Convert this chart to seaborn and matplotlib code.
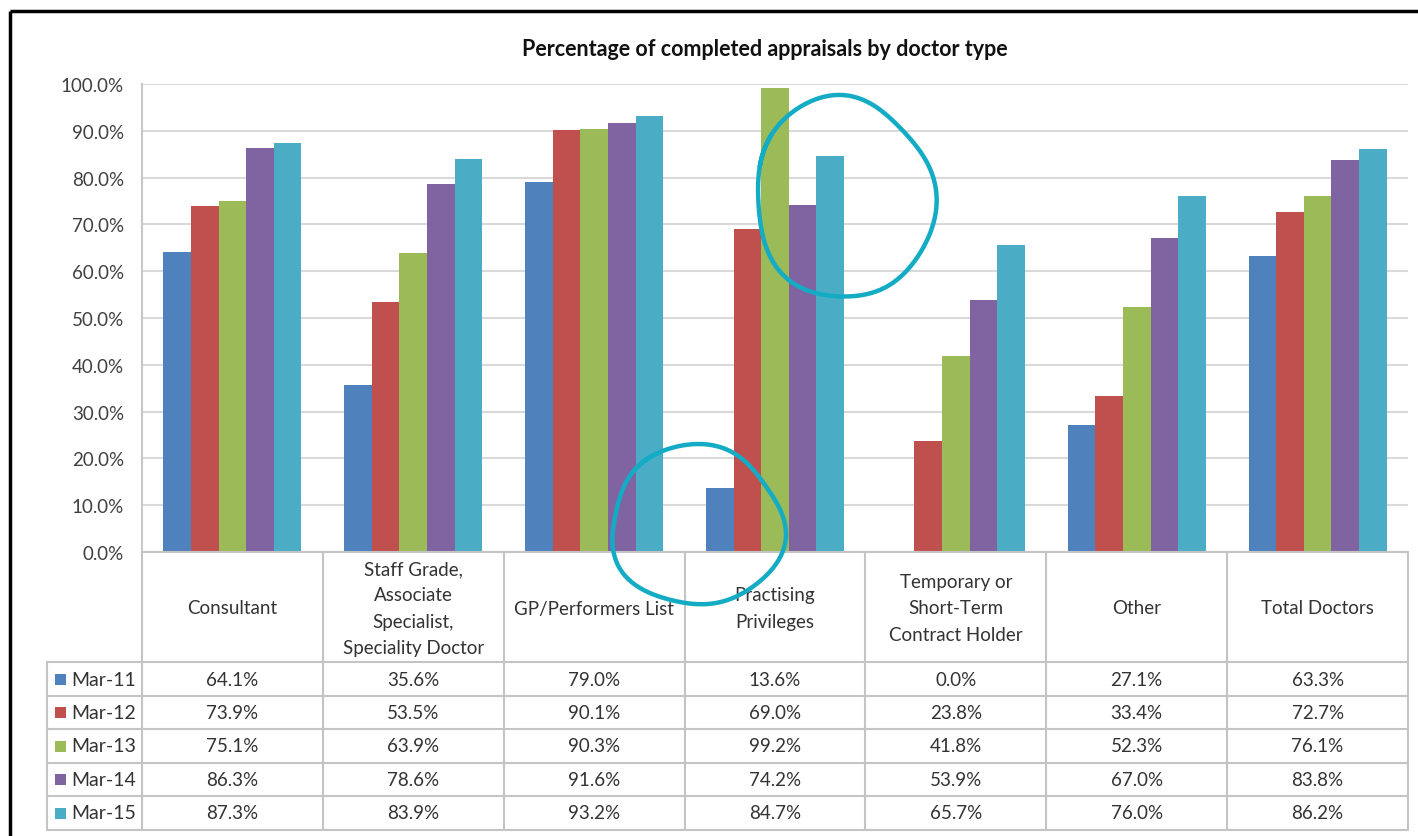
import numpy as np
import pandas as pd
import matplotlib
matplotlib.use("Agg")
import matplotlib.pyplot as plt
import matplotlib.transforms as mtransforms
import seaborn as sns

# ---- data -------------------------------------------------------------
categories = [
    "Consultant",
    "Staff Grade,\nAssociate\nSpecialist,\nSpeciality Doctor",
    "GP/Performers List",
    "Practising\nPrivileges",
    "Temporary or\nShort-Term\nContract Holder",
    "Other",
    "Total Doctors",
]
periods = ["Mar-11", "Mar-12", "Mar-13", "Mar-14", "Mar-15"]
mar11 = [64.1, 35.6, 79.0, 13.6, 0.0, 27.1, 63.3]
mar12 = [73.9, 53.5, 90.1, 69.0, 23.8, 33.4, 72.7]
mar13 = [75.1, 63.9, 90.3, 99.2, 41.8, 52.3, 76.1]
mar14 = [86.3, 78.6, 91.6, 74.2, 53.9, 67.0, 83.8]
mar15 = [87.3, 83.9, 93.2, 84.7, 65.7, 76.0, 86.2]
y_ticks = [0, 10, 20, 30, 40, 50, 60, 70, 80, 90, 100]
title = "Percentage of completed appraisals by doctor type"

series = [mar11, mar12, mar13, mar14, mar15]
colors = ["#4f81bd", "#c0504d", "#9bbb59", "#8064a2", "#4bacc6"]

df = pd.DataFrame(
    [(c, p, v) for p, vals in zip(periods, series) for c, v in zip(categories, vals)],
    columns=["category", "period", "value"],
)

# ---- figure -----------------------------------------------------------
sns.set_theme(style="white")
plt.rcParams["font.family"] = ["Lato", "DejaVu Sans"]

W, H = 1418, 837
fig = plt.figure(figsize=(W / 100, H / 100), dpi=100)
fig.patch.set_facecolor("white")

# overlay in pixel coordinates for the data table and frame
ov = fig.add_axes([0, 0, 1, 1])
ov.set_xlim(0, W)
ov.set_ylim(H, 0)
ov.axis("off")

# plot area
px_left, px_right, px_top, px_bottom = 142, 1408, 85, 553
ax = fig.add_axes([px_left / W, 1 - px_bottom / H,
                   (px_right - px_left) / W, (px_bottom - px_top) / H])
ax.set_zorder(1)
ax.patch.set_alpha(0)

sns.barplot(data=df, x="category", y="value", hue="period",
            order=categories, hue_order=periods, palette=colors,
            width=0.763, gap=0, saturation=1, legend=False, ax=ax,
            edgecolor="none", linewidth=0)

ax.set_xlim(-0.5, len(categories) - 0.5)
ax.set_ylim(0, 100)
ax.set_yticks(y_ticks)
ax.set_yticklabels([f"{t:.1f}%" for t in y_ticks], fontsize=13.5, color="#404040")
ax.tick_params(axis="y", length=0, pad=13)
ax.set_xticks([])
ax.set_xlabel("")
ax.set_ylabel("")
ax.yaxis.grid(True, color="#d9d9d9", linewidth=1.5)
ax.set_axisbelow(True)
for s in ["top", "right", "bottom"]:
    ax.spines[s].set_visible(False)
ax.spines["left"].set_color("#c8c8c8")
ax.spines["left"].set_linewidth(1.5)

fig.text(765 / W, 1 - 50 / H, title, ha="center", va="center",
         fontsize=15.5, fontweight="bold", color="#111111")

# ---- data table -------------------------------------------------------
tr = mtransforms.blended_transform_factory(ax.transData, ov.transData)
line_c = "#c4c4c4"
lw = 1.5
n = len(categories)
head_top, head_bot = 553, 663
row_edges = [663, 697, 730, 764, 797, 831]
legend_left = 47

ov.plot([px_left, px_right], [head_top, head_top], color=line_c, lw=lw)
for yv in row_edges:
    ov.plot([legend_left, px_right], [yv, yv], color=line_c, lw=lw)
ov.plot([legend_left, legend_left], [row_edges[0], row_edges[-1]], color=line_c, lw=lw)
for i in range(n + 1):
    ov.plot([i - 0.5, i - 0.5], [head_top, row_edges[-1]], color=line_c, lw=lw,
            transform=tr)

for i, cat in enumerate(categories):
    ov.text(i, (head_top + head_bot) / 2 + 1, cat, transform=tr, ha="center",
            va="center", fontsize=13.5, color="#333333", linespacing=1.65)

for r, (p, vals, col) in enumerate(zip(periods, series, colors)):
    yc = (row_edges[r] + row_edges[r + 1]) / 2
    ov.add_patch(plt.Rectangle((55, yc - 5.5), 11, 11, color=col, lw=0))
    ov.text(71, yc, p, ha="left", va="center", fontsize=14, color="#333333")
    for i, v in enumerate(vals):
        ov.text(i, yc, f"{v:.1f}%", transform=tr, ha="center", va="center",
                fontsize=13.5, color="#333333")

# outer frame
ov.plot([10, W], [12, 12], color="black", lw=2.5, solid_capstyle="butt")
ov.plot([10, 10], [12, H], color="black", lw=2.5, solid_capstyle="butt")


# ---- hand-drawn highlight loops ---------------------------------------
def loop(cx, cy, rx, ry, start, tilt, wob):
    t = np.linspace(0, 2 * np.pi + 0.35, 240) + start
    r = 1 + wob * np.sin(3 * t + 0.7) + 0.5 * wob * np.cos(5 * t)
    x = rx * r * np.cos(t)
    y = ry * r * np.sin(t)
    ct, st = np.cos(tilt), np.sin(tilt)
    return cx + x * ct - y * st, cy + x * st + y * ct


hl = "#14acc4"
x1, y1 = loop(844, 199, 89, 101, 3.6, -0.15, 0.03)
ov.plot(x1, y1, color=hl, lw=3.2, solid_capstyle="round", zorder=10)
x2, y2 = loop(697, 527, 86, 80, 3.8, 0.1, 0.035)
ov.plot(x2, y2, color=hl, lw=3.2, solid_capstyle="round", zorder=10)
ov.set_zorder(2)
ov.patch.set_alpha(0)

fig.savefig("out.png", dpi=100, facecolor="white")
